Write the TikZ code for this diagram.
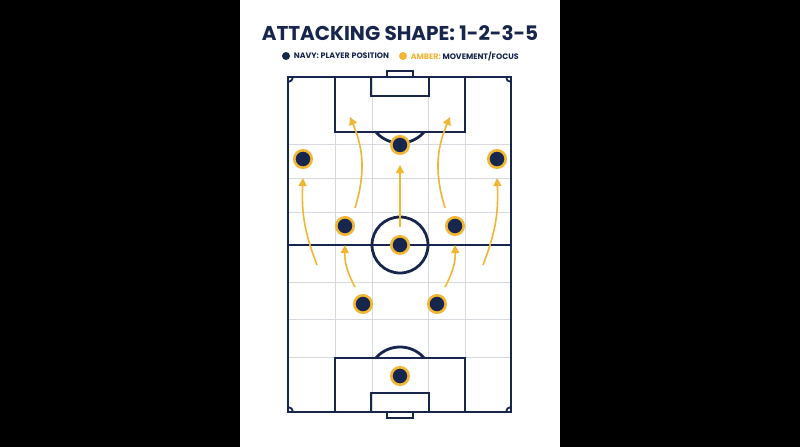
\documentclass[tikz,border=0pt]{standalone}
\usepackage{fontspec}
\setmainfont{Poppins}
\usepackage{tikz}
\usetikzlibrary{positioning, arrows.meta}
\definecolor{navy}{HTML}{16264C}
\definecolor{amber}{HTML}{F2B534}
\definecolor{gridgray}{HTML}{D6D9DF}

\begin{document}
\begin{tikzpicture}[x=1pt, y=-1pt,
  pitchline/.style={draw=navy, line width=2.8pt},
  gridline/.style={draw=gridgray, line width=1pt},
  player/.style={circle, fill=navy, draw=amber, line width=2.6pt, minimum size=17.4pt, inner sep=0pt},
  move/.style={draw=amber, line width=1.6pt, -{Triangle[width=8pt,length=8pt]}},
  legenddot/.style={circle, fill=#1, minimum size=8pt, inner sep=0pt},
  legendtext/.style={font=\fontsize{7.9}{9}\selectfont\bfseries, text=navy, inner sep=0pt}]

% --- Canvas ---
\fill[black] (0,0) rectangle (800,447);
\fill[white] (240,0) rectangle (560,447);
\useasboundingbox (0,0) rectangle (800,447);

% --- Title and legend ---
\node[font=\fontsize{20}{24}\selectfont\bfseries, text=navy] (title) at (400,33) {ATTACKING SHAPE: 1-2-3-5};
\node[legenddot=navy] (navydot) at (286,56) {};
\node[legendtext, right=3.5pt of navydot] (navytext) {NAVY: PLAYER POSITION};
\node[legenddot=amber] (amberdot) at (403,56) {};
\node[legendtext, right=3.5pt of amberdot] (ambertext) {\textcolor{amber}{AMBER:} MOVEMENT/FOCUS};

% --- Grid ---
\foreach \gx in {335,372,428,465}
  \draw[gridline] (\gx,77) -- (\gx,412);
\foreach \gy in {144,178,212,282,319,357}
  \draw[gridline] (288,\gy) -- (511,\gy);

% --- Pitch markings ---
\draw[pitchline] (288,77) rectangle (511,412);
\draw[pitchline] (288,245) -- (511,245);
\draw[pitchline] (400,245) circle[radius=28];
% top end
\draw[pitchline] (335,77) rectangle (465,132);
\draw[pitchline] (371,77) rectangle (429,96);
\draw[pitchline, line width=2pt] (387,71) rectangle (413,77);
\begin{scope}
  \clip (335,133) rectangle (465,160);
  \draw[pitchline] (400,111) circle[radius=32];
\end{scope}
% bottom end
\draw[pitchline] (335,358) rectangle (465,412);
\draw[pitchline] (371,393) rectangle (429,412);
\draw[pitchline, line width=2pt] (387,412) rectangle (413,418);
\begin{scope}
  \clip (335,330) rectangle (465,357);
  \draw[pitchline] (400,379) circle[radius=32];
\end{scope}
% corners
\begin{scope}
  \clip (288,77) rectangle (511,412);
  \foreach \cx/\cy in {288/77,511/77,288/412,511/412}
    \draw[pitchline, line width=1.8pt] (\cx,\cy) circle[radius=5];
\end{scope}

% --- Movement arrows ---
\coordinate (wl-s) at (317,265); \coordinate (wl-e) at (303,178);
\coordinate (wr-s) at (483,265); \coordinate (wr-e) at (497,178);
\coordinate (il-s) at (355,208); \coordinate (il-e) at (350,117);
\coordinate (ir-s) at (445,208); \coordinate (ir-e) at (450,117);
\coordinate (bl-s) at (355,287); \coordinate (bl-e) at (345,245);
\coordinate (br-s) at (445,287); \coordinate (br-e) at (455,245);
\coordinate (c-s) at (400,227);  \coordinate (c-e) at (400,165);
\draw[move] (wl-s) to[bend left=12] (wl-e);
\draw[move] (wr-s) to[bend right=12] (wr-e);
\draw[move] (il-s) to[bend right=20] (il-e);
\draw[move] (ir-s) to[bend left=20] (ir-e);
\draw[move] (bl-s) to[bend left=15] (bl-e);
\draw[move] (br-s) to[bend right=15] (br-e);
\draw[move] (c-s) -- (c-e);

% --- Players ---
\node[player] (gk) at (400,376) {};
\node[player] (cbl) at (363,304) {};
\node[player] (cbr) at (437,304) {};
\node[player] (cml) at (345,226) {};
\node[player] (cmc) at (400,245) {};
\node[player] (cmr) at (455,226) {};
\node[player] (fwl) at (303,159) {};
\node[player] (fwc) at (400,145) {};
\node[player] (fwr) at (497,159) {};

\end{tikzpicture}
\end{document}
